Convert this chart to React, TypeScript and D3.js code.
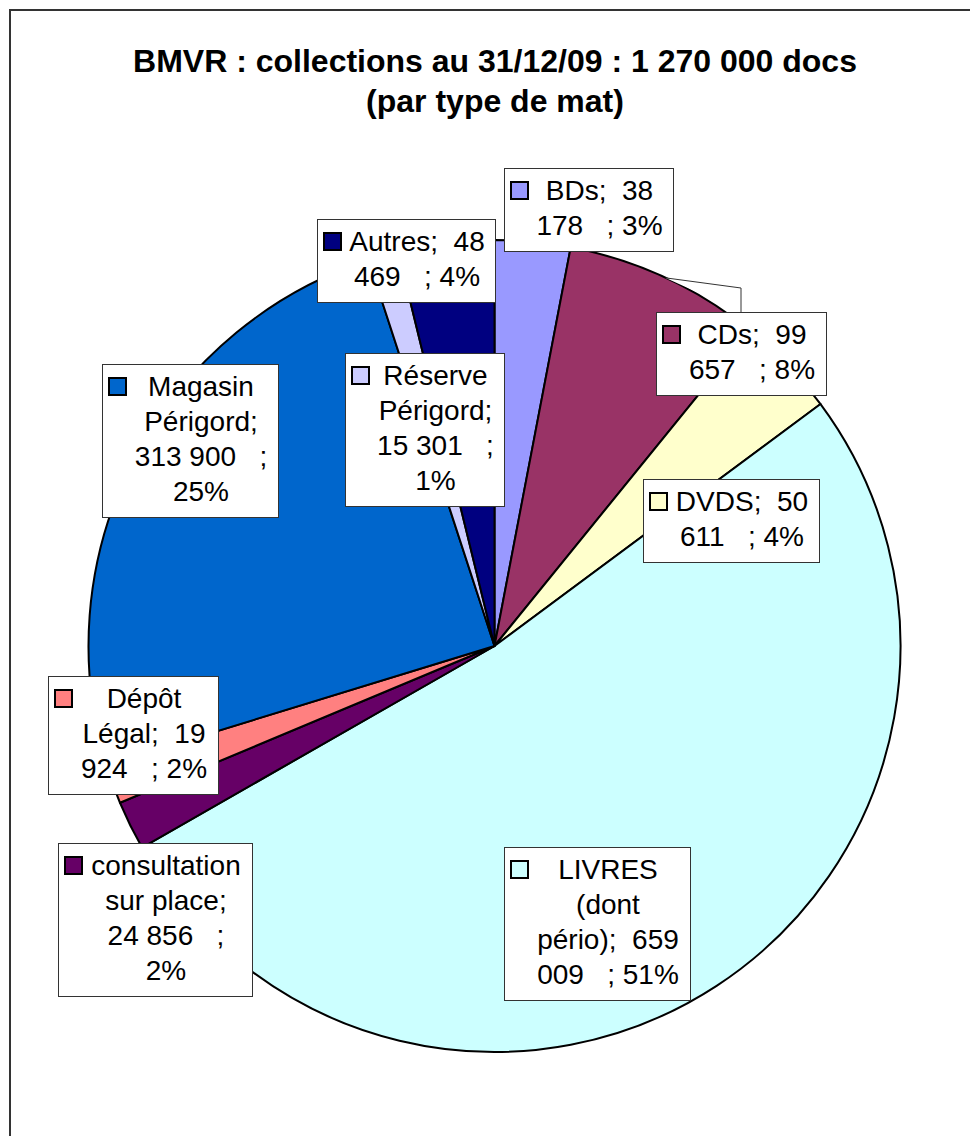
import React from "react";
import * as d3 from "d3";

// collections BMVR au 31/12/09, par type de matériel
const names = [
  "BDs",
  "CDs",
  "DVDS",
  "LIVRES (dont pério)",
  "consultation sur place",
  "Dépôt Légal",
  "Magasin Périgord",
  "Réserve Périgord",
  "Autres",
];
const values = [38178, 99657, 50611, 659009, 24856, 19924, 313900, 15301, 48469];
const colors = [
  "#9999FF",
  "#993366",
  "#FFFFCC",
  "#CCFFFF",
  "#660066",
  "#FF8080",
  "#0066CC",
  "#CCCCFF",
  "#000080",
];
// texte des étiquettes, coupé comme dans Excel
const labelLines = [
  ["BDs;  38", "178   ; 3%"],
  ["CDs;  99", "657   ; 8%"],
  ["DVDS;  50", "611   ; 4%"],
  ["LIVRES", "(dont", "pério);  659", "009   ; 51%"],
  ["consultation", "sur place;", "24 856   ;", "2%"],
  ["Dépôt", "Légal;  19", "924   ; 2%"],
  ["Magasin", "Périgord;", "313 900   ;", "25%"],
  ["Réserve", "Périgord;", "15 301   ;", "1%"],
  ["Autres;  48", "469   ; 4%"],
];
const titleLines = ["BMVR : collections au 31/12/09 : 1 270 000 docs", "(par type de mat)"];

// position des boîtes d'étiquettes (placement manuel)
const labelBoxes = [
  { x: 504, y: 168, w: 169 },
  { x: 656, y: 312, w: 170, leader: true },
  { x: 643, y: 479, w: 176 },
  { x: 504, y: 847, w: 186 },
  { x: 58, y: 843, w: 194 },
  { x: 48, y: 676, w: 170 },
  { x: 102, y: 364, w: 176 },
  { x: 345, y: 353, w: 159 },
  { x: 317, y: 219, w: 178 },
];

const font = "'Liberation Sans', Arial, Helvetica, sans-serif";

export default function App() {
  const width = 970;
  const height = 1136;
  const cx = 494.5;
  const cy = 646;
  const r = 406;
  const lineH = 35;

  const data = names.map((n, i) => ({ name: n, value: values[i], color: colors[i], i }));
  const pie = d3.pie<any>().sort(null).value((d) => d.value);
  const arcs = pie(data);
  const arc = d3.arc<any>().innerRadius(0).outerRadius(r);

  return (
    <div style={{ position: "absolute", left: 0, top: 0 }}>
      <svg width={width} height={height} style={{ display: "block", fontFamily: font }}>
        <rect x={0} y={0} width={width} height={height} fill="#fff" />
        <rect x={10} y={10} width={1000} height={1200} fill="none" stroke="#333" strokeWidth={2} />

        {titleLines.map((t, i) => (
          <text
            key={i}
            x={495}
            y={72 + i * 40}
            textAnchor="middle"
            fontSize={32}
            fontWeight="bold"
          >
            {t}
          </text>
        ))}

        <g transform={`translate(${cx},${cy})`}>
          {arcs.map((a) => (
            <path
              key={a.data.name}
              d={arc(a) as string}
              fill={a.data.color}
              stroke="#000"
              strokeWidth={2}
              strokeLinejoin="round"
            />
          ))}
        </g>

        {arcs.map((a, i) => {
          const b = labelBoxes[i];
          if (!b.leader) return null;
          const mid = (a.startAngle + a.endAngle) / 2;
          const px = cx + r * Math.sin(mid);
          const py = cy - r * Math.cos(mid);
          const bx = b.x + b.w / 2;
          return (
            <polyline
              key={"lead" + i}
              points={`${px},${py} ${bx},${b.y - 24} ${bx},${b.y}`}
              fill="#fff"
              stroke="#333"
              strokeWidth={1}
            />
          );
        })}

        {arcs.map((a, i) => {
          const b = labelBoxes[i];
          const lines = labelLines[i];
          const h = lines.length * lineH + 13;
          const tx = b.x + b.w / 2 + 11;
          const base = b.y + 32;
          return (
            <g key={"lab" + i}>
              <rect x={b.x + 0.5} y={b.y + 0.5} width={b.w} height={h} fill="#fff" stroke="#333" strokeWidth={1} />
              <rect
                x={b.x + 7}
                y={base - 18}
                width={17}
                height={17}
                fill={a.data.color}
                stroke="#000"
                strokeWidth={2}
              />
              {lines.map((l, j) => (
                <text
                  key={j}
                  x={tx}
                  y={base + j * lineH}
                  textAnchor="middle"
                  fontSize={28}
                  style={{ whiteSpace: "pre" }}
                >
                  {l}
                </text>
              ))}
            </g>
          );
        })}
      </svg>
    </div>
  );
}
